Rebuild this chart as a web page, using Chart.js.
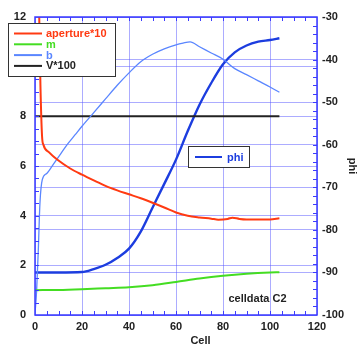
<!DOCTYPE html>
<html>
<head>
<meta charset="utf-8">
<script src="https://cdn.jsdelivr.net/npm/chart.js@4/dist/chart.umd.min.js"></script>
<style>
  html, body { margin: 0; padding: 0; background: #ffffff; }
  #wrap { width: 363px; height: 345px; position: relative; }
</style>
</head>
<body>
<div id="wrap"><canvas id="c" width="363" height="345"></canvas></div>
<script>
// ---- data ----
const apertureCell = [1.8, 2.3, 3.0, 3.6, 6, 10, 15, 20, 25, 30, 35, 40, 45, 50, 55, 60, 65, 70, 75, 78, 82, 84, 87, 90, 95, 100, 104];
const aperture10   = [12.0, 9.3, 7.2, 6.85, 6.55, 6.22, 5.9, 5.65, 5.42, 5.2, 5.02, 4.86, 4.7, 4.52, 4.33, 4.13, 4.0, 3.93, 3.88, 3.84, 3.87, 3.92, 3.87, 3.85, 3.85, 3.85, 3.9];

const mCell = [0, 10, 20, 30, 40, 50, 60, 70, 80, 90, 100, 104];
const mVal  = [1.0, 1.01, 1.04, 1.08, 1.12, 1.2, 1.33, 1.47, 1.58, 1.66, 1.71, 1.72];

const bCell = [0, 0.7, 1.4, 2.1, 3.1, 5, 8, 11, 14, 17, 20, 25, 30, 35, 40, 45, 50, 55, 60, 63, 66, 70, 75, 80, 85, 90, 95, 100, 104];
const bVal  = [0.05, 1.0, 2.6, 4.5, 5.45, 5.7, 6.1, 6.5, 6.9, 7.25, 7.6, 8.15, 8.7, 9.25, 9.75, 10.2, 10.5, 10.72, 10.88, 10.95, 11.0, 10.8, 10.55, 10.3, 9.92, 9.68, 9.43, 9.18, 8.97];

const vCell = [0, 104];
const v100  = [8, 8];

const phiCell = [0, 10, 20, 25, 30, 35, 40, 45, 50, 55, 60, 65, 70, 75, 80, 85, 90, 95, 100, 104];
const phiVal  = [-90, -90, -89.9, -89.2, -88.2, -86.6, -84.4, -80.4, -74.8, -69.2, -63.5, -56.8, -50.6, -45.5, -41.1, -38.3, -36.7, -35.8, -35.4, -35.0];

const leftTicks  = [0, 2, 4, 6, 8, 10, 12];
const rightTicks = [-100, -90, -80, -70, -60, -50, -40, -30];
const xTicks     = [0, 20, 40, 60, 80, 100, 120];

const seriesNames = ['aperture*10', 'm', 'b', 'V*100', 'phi'];
const xTitle = 'Cell';
const yRightTitle = 'phi';
const note = 'celldata C2';

// ---- styles ----
const colRed = '#ff3a12';
const colGreen = '#44dd22';
const colB = '#5a86ff';
const colV = '#222222';
const colPhi = '#1c3ddf';
const frameCol = '#3b3bff';
const gridCol = 'rgba(90,90,255,0.5)';
const FONT = '"Liberation Sans", Arial, Helvetica, sans-serif';

function pts(xs, ys) { return xs.map((x, i) => ({ x: x, y: ys[i] })); }

const overlay = {
  id: 'overlay',
  afterDatasetsDraw(chart) {
    const ctx = chart.ctx;
    const a = chart.chartArea;
    const sx = chart.scales.x, sy = chart.scales.y, sy2 = chart.scales.y2;
    ctx.save();
    // frame
    ctx.strokeStyle = frameCol;
    ctx.lineWidth = 1.5;
    ctx.strokeRect(a.left, a.top, a.right - a.left, a.bottom - a.top);
    // minor ticks
    ctx.lineWidth = 1;
    ctx.beginPath();
    for (let v = 5; v < 120; v += 5) {
      const px = Math.round(sx.getPixelForValue(v)) + 0.5;
      ctx.moveTo(px, a.bottom); ctx.lineTo(px, a.bottom - 4);
      ctx.moveTo(px, a.top); ctx.lineTo(px, a.top + 4);
    }
    for (let v = 0.5; v < 12; v += 0.5) {
      const py = Math.round(sy.getPixelForValue(v)) + 0.5;
      ctx.moveTo(a.left, py); ctx.lineTo(a.left + 4, py);
    }
    for (let v = -98; v < -30; v += 2) {
      const py = Math.round(sy2.getPixelForValue(v)) + 0.5;
      ctx.moveTo(a.right, py); ctx.lineTo(a.right - 4, py);
    }
    ctx.stroke();
    ctx.restore();
  },
  afterDraw(chart) {
    const ctx = chart.ctx;
    ctx.save();
    ctx.font = 'bold 11px ' + FONT;
    // main legend
    ctx.fillStyle = '#ffffff';
    ctx.fillRect(8.5, 23.5, 107, 53);
    ctx.strokeStyle = '#333333';
    ctx.lineWidth = 1;
    ctx.strokeRect(8.5, 23.5, 107, 53);
    const cols = [colRed, colGreen, colB, colV];
    ctx.textBaseline = 'middle';
    ctx.textAlign = 'left';
    for (let i = 0; i < 4; i++) {
      const y = 33.5 + i * 10.8;
      ctx.strokeStyle = cols[i];
      ctx.lineWidth = 2;
      ctx.beginPath(); ctx.moveTo(14, y); ctx.lineTo(42, y); ctx.stroke();
      ctx.fillStyle = cols[i];
      ctx.fillText(seriesNames[i], 46, y + 0.5);
    }
    // phi legend
    ctx.fillStyle = '#ffffff';
    ctx.fillRect(188.5, 146.5, 61, 21);
    ctx.strokeStyle = '#333333';
    ctx.lineWidth = 1;
    ctx.strokeRect(188.5, 146.5, 61, 21);
    ctx.strokeStyle = colPhi;
    ctx.lineWidth = 2;
    ctx.beginPath(); ctx.moveTo(195, 157); ctx.lineTo(222, 157); ctx.stroke();
    ctx.fillStyle = colPhi;
    ctx.fillText(seriesNames[4], 227, 157.5);
    // note
    ctx.fillStyle = '#222222';
    ctx.textAlign = 'center';
    ctx.fillText(note, 257.5, 298.5);
    // x title
    ctx.textBaseline = 'top';
    ctx.fillText(xTitle, 200.5, 335);
    ctx.restore();
  }
};

const tickFont = { family: FONT, size: 11, weight: 'bold' };

new Chart(document.getElementById('c'), {
  type: 'line',
  data: {
    datasets: [
      { label: seriesNames[0], data: pts(apertureCell, aperture10), borderColor: colRed, borderWidth: 2, yAxisID: 'y' },
      { label: seriesNames[1], data: pts(mCell, mVal), borderColor: colGreen, borderWidth: 2, yAxisID: 'y' },
      { label: seriesNames[2], data: pts(bCell, bVal), borderColor: colB, borderWidth: 1.3, yAxisID: 'y' },
      { label: seriesNames[3], data: pts(vCell, v100), borderColor: colV, borderWidth: 2, yAxisID: 'y' },
      { label: seriesNames[4], data: pts(phiCell, phiVal), borderColor: colPhi, borderWidth: 2.4, yAxisID: 'y2' }
    ]
  },
  options: {
    responsive: false,
    animation: false,
    devicePixelRatio: 1,
    layout: { padding: { top: 17, left: 0, right: 0, bottom: 0 } },
    elements: { point: { radius: 0 }, line: { cubicInterpolationMode: 'monotone', fill: false } },
    plugins: { legend: { display: false }, tooltip: { enabled: false }, title: { display: false } },
    scales: {
      x: {
        type: 'linear', min: 0, max: 120,
        afterBuildTicks: s => { s.ticks = xTicks.map(v => ({ value: v })); },
        afterFit: s => { s.height = 30; },
        ticks: { color: '#222', font: tickFont, padding: 5, maxRotation: 0 },
        grid: { color: gridCol, lineWidth: 1, drawTicks: false },
        border: { display: false }
      },
      y: {
        type: 'linear', position: 'left', min: 0, max: 12,
        afterBuildTicks: s => { s.ticks = leftTicks.map(v => ({ value: v })); },
        afterFit: s => { s.width = 35; },
        ticks: { color: '#222', font: tickFont, padding: 9 },
        grid: { color: gridCol, lineWidth: 1, drawTicks: false },
        border: { display: false }
      },
      y2: {
        type: 'linear', position: 'right', min: -100, max: -30,
        afterBuildTicks: s => { s.ticks = rightTicks.map(v => ({ value: v })); },
        afterFit: s => { s.width = 46; },
        ticks: { color: '#222', font: tickFont, padding: 5 },
        grid: { color: gridCol, lineWidth: 1, drawTicks: false, drawOnChartArea: true },
        border: { display: false },
        title: { display: true, text: yRightTitle, color: '#222', font: tickFont, padding: { top: 4, bottom: 0 } }
      }
    }
  },
  plugins: [overlay]
});
</script>
</body>
</html>
